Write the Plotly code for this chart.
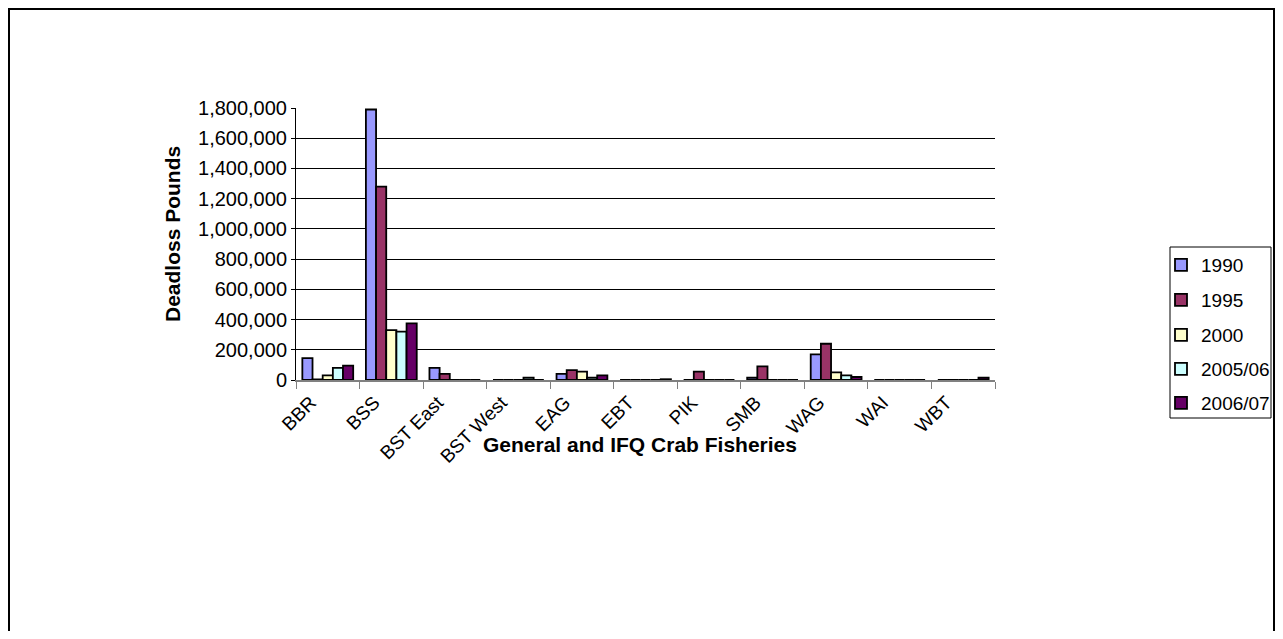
import plotly.graph_objects as go

categories = ["BBR", "BSS", "BST East", "BST West", "EAG", "EBT", "PIK", "SMB", "WAG", "WAI", "WBT"]
series_names = ["1990", "1995", "2000", "2005/06", "2006/07"]
v1990 = [145000, 1790000, 80000, 0, 40000, 0, 0, 15000, 170000, 0, 0]
v1995 = [4000, 1280000, 40000, 0, 65000, 0, 55000, 90000, 240000, 0, 0]
v2000 = [30000, 330000, 0, 0, 55000, 0, 0, 0, 50000, 0, 0]
v2005 = [80000, 320000, 0, 15000, 15000, 0, 0, 0, 30000, 0, 0]
v2006 = [95000, 375000, 0, 0, 30000, 5000, 0, 0, 20000, 0, 15000]
colors = ["#9999FF", "#993366", "#FFFFCC", "#CCFFFF", "#660066"]

FONT = "Liberation Sans, Arial, sans-serif"
OFF = 8  # page body margin
W, H = 1283 - 2 * OFF, 639 - 2 * OFF
# target pixel positions in the window
PL, PR, PT, PB = 296, 995, 108, 380
L, T = PL - OFF, PT - OFF
R, B = (OFF + W) - PR, (OFF + H) - PB
pw, ph = PR - PL, PB - PT


def px(x):
    return (x - PL) / pw


def py(y):
    return (PB - y) / ph


fig = go.Figure()
legend_ids = ["legend", "legend2", "legend3", "legend4", "legend5"]
legend_centers = [265, 300, 335, 369, 403]
for i, (name, vals, col) in enumerate(zip(series_names, [v1990, v1995, v2000, v2005, v2006], colors)):
    fig.add_trace(go.Bar(x=categories, y=vals, name=name, legend=legend_ids[i],
                         marker=dict(color=col, line=dict(color="black", width=1.8))))

legend_layout = {}
for lid, yc in zip(legend_ids, legend_centers):
    legend_layout[lid] = dict(x=px(1161), y=py(yc), xanchor="left", yanchor="middle",
                              bgcolor="rgba(0,0,0,0)", borderwidth=0,
                              font=dict(size=19, family=FONT, color="black"),
                              itemwidth=30)

fig.update_layout(
    width=W, height=H,
    margin=dict(l=L, r=R, t=T, b=B, autoexpand=False),
    paper_bgcolor="white", plot_bgcolor="white",
    barmode="group", bargap=0.2, bargroupgap=0.0,
    font=dict(family=FONT, size=20, color="black"),
    showlegend=True,
    xaxis=dict(showline=True, linecolor="#808080", linewidth=2,
               ticks="outside", tickson="boundaries", ticklen=7, tickcolor="#808080",
               tickangle=-45, showgrid=False, tickfont=dict(size=19),
               ticklabelstandoff=2, ticklabelshift=-17),
    yaxis=dict(range=[0, 1800000], dtick=200000, tickformat=",",
               showline=True, linecolor="black", linewidth=1,
               ticks="outside", ticklen=4, tickcolor="black",
               showgrid=True, gridcolor="black", gridwidth=1,
               zeroline=False, tickfont=dict(size=20)),
    annotations=[
        dict(text="<b>Deadloss Pounds</b>", x=px(172), y=py(234), xref="paper", yref="paper",
             showarrow=False, textangle=-90, font=dict(size=21), xanchor="center", yanchor="middle"),
        dict(text="<b>General and IFQ Crab Fisheries</b>", x=px(640), y=py(444), xref="paper", yref="paper",
             showarrow=False, font=dict(size=21), xanchor="center", yanchor="middle"),
    ],
    shapes=[
        dict(type="rect", xref="paper", yref="paper", x0=px(9), x1=px(1274), y0=py(660), y1=py(9),
             line=dict(color="black", width=2), fillcolor="rgba(0,0,0,0)", layer="below"),
        dict(type="rect", xref="paper", yref="paper", x0=px(1170), x1=px(1271), y0=py(418), y1=py(247),
             line=dict(color="black", width=1), fillcolor="white", layer="below"),
    ],
    **legend_layout,
)

fig.write_html("out.html")
